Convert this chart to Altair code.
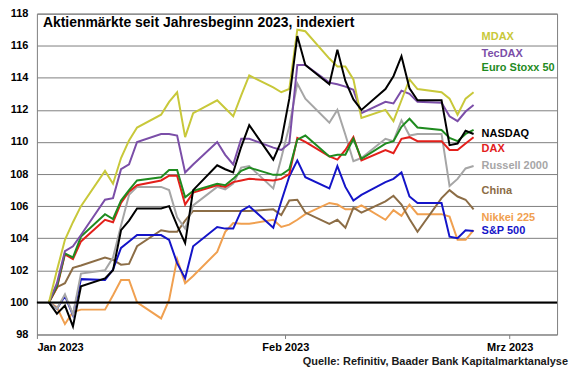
import altair as alt
import pandas as pd

dates = [
    "2023-01-02", "2023-01-03", "2023-01-04", "2023-01-05", "2023-01-06",
    "2023-01-09", "2023-01-10", "2023-01-11", "2023-01-12", "2023-01-13",
    "2023-01-16", "2023-01-17", "2023-01-18", "2023-01-19", "2023-01-20",
    "2023-01-23", "2023-01-24", "2023-01-25", "2023-01-26", "2023-01-27",
    "2023-01-30", "2023-01-31", "2023-02-01", "2023-02-02", "2023-02-03",
    "2023-02-06", "2023-02-07", "2023-02-08", "2023-02-09", "2023-02-10",
    "2023-02-13", "2023-02-14", "2023-02-15", "2023-02-16", "2023-02-17",
    "2023-02-20", "2023-02-21", "2023-02-22", "2023-02-23", "2023-02-24",
]

mdax = [100, 102.0, 103.9, 105.0, 106.0, 108.2, 107.4, 109.0, 110.1, 110.9,
        111.7, 112.5, 113.1, 110.3, 111.8, 112.6, 112.1, 111.6, 112.9, 114.15,
        113.4, 113.1, 113.3, 117.0, 116.9, 115.2, 114.7, 114.7, 113.9, 111.5,
        112.0, 111.3, 112.6, 113.9, 113.3, 113.1, 112.7, 111.7, 112.7, 113.1]
tecdax = [100, 101.2, 103.2, 103.5, 104.2, 106.4, 106.5, 108.3, 108.6, 110.0,
          110.5, 110.5, 110.4, 108.1, 108.6, 110.0, 109.2, 108.6, 110.2, 110.2,
          109.65, 109.5, 109.9, 114.8, 114.8, 113.7, 113.6, 113.45, 113.25, 111.8,
          112.5, 112.4, 113.2, 113.0, 112.5, 112.45, 111.6, 111.3, 111.9, 112.3]
eurostoxx = [100, 101.0, 103.05, 102.8, 104.1, 105.5, 105.2, 106.35, 107.0, 107.6,
             107.8, 108.25, 108.25, 106.55, 106.95, 107.4, 107.3, 107.7, 108.2, 108.4,
             107.95, 107.95, 108.3, 110.15, 110.4, 109.1, 109.2, 109.2, 110.2, 108.95,
             109.9, 110.05, 110.95, 111.45, 110.9, 110.75, 110.25, 110.05, 110.5, 110.75]
nasdaq = [100, 99.3, 99.8, 98.5, 101.0, 101.5, 102.0, 104.5, 105.1, 105.85,
          105.85, 106.0, 104.8, 103.7, 107.0, 108.55, 108.3, 108.1, 109.7, 111.05,
          108.9, 110.05, 112.7, 116.6, 114.8, 113.6, 115.75, 113.8, 112.65, 112.0,
          113.3, 114.1, 115.35, 113.35, 112.6, 112.6, 109.8, 109.9, 110.7, 110.5]
dax = [100, 100.9, 103.0, 102.7, 103.8, 105.15, 105.0, 106.2, 106.9, 107.3,
       107.6, 107.9, 107.9, 106.1, 106.85, 107.3, 107.2, 107.5, 107.6, 107.7,
       107.6, 107.7, 108.0, 110.25, 110.0, 109.1, 108.9, 109.5, 110.3, 108.85,
       109.5, 109.3, 110.2, 110.3, 110.05, 110.05, 109.5, 109.5, 109.9, 110.3]
russell = [100, 99.6, 100.5, 99.25, 101.8, 102.0, 102.8, 104.8, 106.7, 107.2,
           107.2, 107.0, 105.3, 104.6, 106.05, 107.2, 107.05, 107.4, 108.4, 108.5,
           107.1, 109.0, 111.0, 113.65, 112.7, 111.2, 112.0, 110.45, 108.8, 109.0,
           110.2, 110.05, 111.35, 110.4, 110.5, 110.5, 107.25, 107.7, 108.35, 108.5]
china = [100, 100.95, 101.2, 102.15, 102.3, 102.8, 102.65, 102.35, 102.4, 103.5,
         104.5, 104.4, 104.4, 105.1, 105.7, 105.7, 105.7, 105.7, 105.7, 105.7,
         105.8, 105.45, 106.35, 106.4, 105.6, 104.9, 105.15, 104.65, 105.9, 105.6,
         106.3, 106.65, 106.1, 105.2, 104.4, 106.5, 107.0, 106.6, 106.4, 105.8]
nikkei = [100, 99.7, 98.65, 99.4, 99.55, 99.55, 100.45, 101.4, 101.4, 100.0,
          99.0, 100.15, 102.7, 101.2, 101.65, 103.15, 104.4, 104.95, 104.9, 104.9,
          105.15, 104.7, 104.85, 105.15, 105.5, 106.2, 106.1, 105.8, 105.8, 106.05,
          105.15, 105.75, 105.4, 106.1, 105.5, 105.5, 105.35, 103.9, 103.9, 104.5]
sp500 = [100, 99.6, 100.4, 99.2, 101.45, 101.4, 102.05, 103.4, 103.8, 104.2,
         104.2, 103.9, 102.45, 101.5, 103.5, 104.7, 104.6, 104.6, 105.7, 106.0,
         104.65, 106.3, 107.85, 108.85, 107.8, 107.1, 108.5, 107.2, 106.35, 106.7,
         107.5, 107.7, 108.1, 106.6, 106.2, 106.2, 104.1, 104.0, 104.5, 104.45]

series_names = ["Nikkei 225", "China", "S&P 500", "Russell 2000", "DAX",
                "Euro Stoxx 50", "TecDAX", "MDAX", "NASDAQ"]
series_values = [nikkei, china, sp500, russell, dax, eurostoxx, tecdax, mdax, nasdaq]
series_colors = ["#f0a050", "#8c6d46", "#1414c8", "#a6a6a6", "#e3201b",
                 "#1f8b1f", "#7b4ea8", "#c8c83a", "#000000"]

label_names = ["MDAX", "TecDAX", "Euro Stoxx 50", "NASDAQ", "DAX",
               "Russell 2000", "China", "Nikkei 225", "S&P 500"]
label_values = [116.57, 115.48, 114.58, 110.47, 109.55, 108.53, 106.96, 105.28, 104.46]
label_date = "2023-02-25T12:00:00"

y_ticks = [98, 100, 102, 104, 106, 108, 110, 112, 114, 116, 118]
baseline = [100]
baseline_date = ["2023-02-01T00:00:00"]
title_text = "Aktienmärkte seit Jahresbeginn 2023, indexiert"
source_text = "Quelle: Refinitiv, Baader Bank Kapitalmarktanalyse"
FONT = "Liberation Sans, Arial"

PLOT_H = 322

rows = []
for name, vals in zip(series_names, series_values):
    for d, v in zip(dates, vals):
        rows.append({"series": name, "date": d + "T12:00:00", "value": v,
                     "order": series_names.index(name)})
df = pd.DataFrame(rows)

lab_df = pd.DataFrame({"series": label_names, "value": label_values,
                       "date": [label_date] * len(label_names)})

color_scale = alt.Scale(domain=series_names, range=series_colors)
x_scale = alt.Scale(domain=["2023-01-01T00:00:00", "2023-03-06T22:00:00"])
y_scale = alt.Scale(domain=[98, 118], nice=False, zero=False)

x_axis = alt.Axis(values=[alt.DateTime(year=2023, month=1, date=1),
                          alt.DateTime(year=2023, month=2, date=1),
                          alt.DateTime(year=2023, month=3, date=1)],
                  labelExpr="['Jan','Feb','Mrz'][month(datum.value)] + ' 2023'",
                  grid=False, domain=False, ticks=True, tickSize=4,
                  tickColor="#808080", labelFont=FONT, labelFontSize=11,
                  labelFontWeight="bold", labelColor="#000000",
                  labelPadding=3, labelOverlap=False, labelBound=False,
                  title=None)
y_axis = alt.Axis(values=y_ticks, grid=True, gridColor="#808080",
                  gridWidth=1, domain=False, ticks=False,
                  labelFont=FONT, labelFontSize=11, labelFontWeight="bold",
                  labelColor="#000000", labelPadding=9, labelOverlap=False,
                  labelBound=False, labelFlush=False, title=None)

x_enc = alt.X("date:T", scale=x_scale, axis=x_axis)
y_enc = alt.Y("value:Q", scale=y_scale, axis=y_axis)

lines = alt.Chart(df).mark_line(strokeWidth=2, clip=True).encode(
    x=x_enc, y=y_enc,
    color=alt.Color("series:N", scale=color_scale, legend=None),
    detail="series:N",
    order="order:Q",
)

rule = alt.Chart(pd.DataFrame({"value": baseline})).mark_rule(
    color="#000000", strokeWidth=2).encode(y=y_enc)

labels = alt.Chart(lab_df).mark_text(
    align="left", baseline="middle", font=FONT, fontSize=11, fontWeight="bold"
).encode(
    x=x_enc, y=y_enc,
    color=alt.Color("series:N", scale=color_scale, legend=None),
    text="series:N",
)

title = alt.Chart(pd.DataFrame({"t": [title_text]})).mark_text(
    align="left", baseline="alphabetic", font=FONT, fontSize=14,
    fontWeight="bold", color="#000000"
).encode(x=alt.value(6), y=alt.value(13), text="t:N")

source = alt.Chart(pd.DataFrame({"t": [source_text]})).mark_text(
    align="right", baseline="alphabetic", font=FONT, fontSize=11,
    fontWeight="bold", color="#1a1a1a"
).encode(x=alt.value(533), y=alt.value(PLOT_H + 31), text="t:N")

chart = alt.layer(lines, rule, labels, title, source).properties(
    width=522, height=PLOT_H,
    padding={"left": 29, "top": 5, "right": 15, "bottom": 40},
    autosize=alt.AutoSizeParams(type="none"),
    background="#ffffff",
).configure_view(stroke="#808080", strokeWidth=1)

chart.save("out.html", embed_options={"renderer": "svg", "actions": False})
